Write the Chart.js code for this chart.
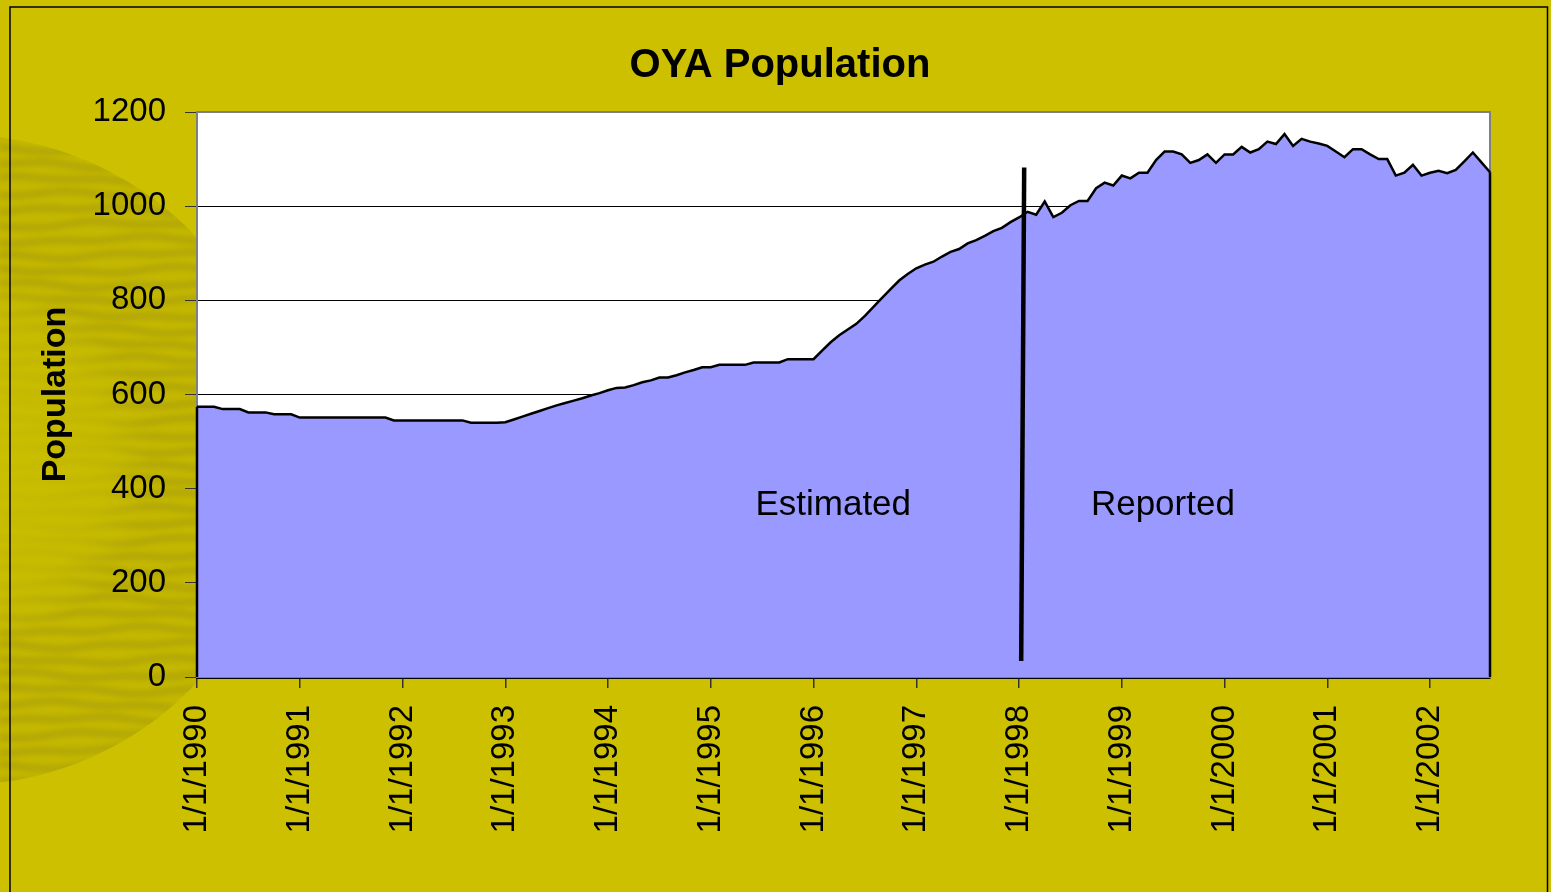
<!DOCTYPE html>
<html>
<head>
<meta charset="utf-8">
<title>OYA Population</title>
<script src="https://cdn.jsdelivr.net/npm/chart.js@4/dist/chart.umd.min.js"></script>
<style>
  html, body { margin: 0; padding: 0; background: #CCC000; }
  #wrap { width: 1551px; height: 892px; }
</style>
</head>
<body>
<div id="wrap"><canvas id="chart-oya" width="1551" height="892"></canvas></div>
<script>
// --- Data (monthly, Jan 1990 - Aug 2002) ---
const years = [1990, 1991, 1992, 1993, 1994, 1995, 1996, 1997, 1998, 1999, 2000, 2001, 2002];
const pop1990 = [574, 574, 574, 569, 569, 569, 562, 562, 562, 558, 558, 558];
const pop1991 = [551, 551, 551, 551, 551, 551, 551, 551, 551, 551, 551, 545];
const pop1992 = [545, 545, 545, 545, 545, 545, 545, 545, 540, 540, 540, 540];
const pop1993 = [541, 547, 553, 559, 565, 571, 577, 582, 587, 592, 598, 603];
const pop1994 = [609, 614, 615, 620, 626, 630, 636, 636, 641, 647, 652, 658];
const pop1995 = [658, 663, 663, 663, 663, 668, 668, 668, 668, 675, 675, 675];
const pop1996 = [675, 693, 711, 726, 738, 750, 767, 786, 805, 824, 842, 856];
const pop1997 = [868, 876, 882, 893, 903, 909, 921, 928, 937, 947, 954, 966];
const pop1998 = [976, 988, 982, 1010, 977, 986, 1002, 1011, 1011, 1038, 1050, 1044];
const pop1999 = [1065, 1059, 1071, 1071, 1098, 1116, 1116, 1110, 1092, 1098, 1110, 1092];
const pop2000 = [1110, 1110, 1126, 1114, 1121, 1137, 1132, 1153, 1128, 1143, 1137, 1133];
const pop2001 = [1128, 1116, 1104, 1121, 1121, 1110, 1100, 1100, 1065, 1071, 1088, 1065];
const pop2002 = [1071, 1075, 1070, 1077, 1095, 1114, 1093, 1072];

const population = [].concat(pop1990, pop1991, pop1992, pop1993, pop1994, pop1995, pop1996,
  pop1997, pop1998, pop1999, pop2000, pop2001, pop2002);

// category labels m/1/yyyy, one per data point
const dateLabels = [];
years.forEach(y => {
  for (let m = 1; m <= 12 && dateLabels.length < population.length; m++) {
    dateLabels.push(m + "/1/" + y);
  }
});

const yTicks = [0, 200, 400, 600, 800, 1000, 1200];

// divider between estimated and reported figures (index along the axis, value)
const dividerTop = { x: 96.6, y: 1082 };
const dividerBottom = { x: 96.25, y: 34 };
const notes = [
  { text: "Estimated", x: 74.3, y: 365 },
  { text: "Reported", x: 112.8, y: 365 }
];

const FONT = "'Liberation Sans', Arial, sans-serif";
const BG = "#CCC000";

// --- background, frame, sun texture, plot area ---
const backdrop = {
  id: "backdrop",
  beforeDraw(chart) {
    const { ctx, chartArea: a } = chart;
    ctx.save();
    ctx.fillStyle = BG;
    ctx.fillRect(0, 0, chart.width, chart.height);

    // textured sun on the left
    const cx = -40, cy = 460, R = 325;
    ctx.beginPath();
    ctx.arc(cx, cy, R, 0, Math.PI * 2);
    ctx.clip();
    ctx.fillStyle = "rgba(160,148,10,0.2)";
    ctx.fillRect(0, cy - R, 300, R * 2);
    ctx.filter = "blur(2px)";
    for (let y = cy - R; y < cy + R; y += 15) {
      ctx.beginPath();
      for (let x = 0; x <= 300; x += 6) {
        const yy = y + 2.5 * Math.sin(x / 37 + y * 0.37) + 1.5 * Math.sin(x / 15 + y);
        if (x === 0) ctx.moveTo(x, yy); else ctx.lineTo(x, yy);
      }
      ctx.strokeStyle = "rgba(135,120,0,0.32)";
      ctx.lineWidth = 6;
      ctx.stroke();
      ctx.strokeStyle = "rgba(215,205,60,0.22)";
      ctx.lineWidth = 3;
      ctx.translate(0, 7);
      ctx.stroke();
      ctx.translate(0, -7);
    }
    ctx.filter = "none";
    const g = ctx.createRadialGradient(cx, cy, 40, cx, cy, 190);
    g.addColorStop(0, "rgba(204,192,0,0.85)");
    g.addColorStop(0.7, "rgba(204,192,0,0.55)");
    g.addColorStop(1, "rgba(204,192,0,0)");
    ctx.fillStyle = g;
    ctx.fillRect(0, cy - 200, 200, 400);
    ctx.restore();

    ctx.save();
    // outer frame
    ctx.strokeStyle = "#000";
    ctx.lineWidth = 1.5;
    ctx.strokeRect(10, 7, 1537.5, 900);
    // plot area
    ctx.fillStyle = "#FFFFFF";
    ctx.fillRect(a.left, a.top, a.right - a.left, a.bottom - a.top);
    ctx.restore();
  },
  beforeDatasetsDraw(chart) {
    const { ctx, chartArea: a } = chart;
    ctx.save();
    ctx.strokeStyle = "#808080";
    ctx.lineWidth = 2;
    ctx.strokeRect(a.left, a.top, a.right - a.left, a.bottom - a.top);
    ctx.restore();
  },
  afterDatasetsDraw(chart) {
    const { ctx } = chart;
    const xs = chart.scales.x, ys = chart.scales.y;
    const pts = chart.getDatasetMeta(0).data;
    const first = pts[0], last = pts[pts.length - 1];
    ctx.save();
    // series outline down the two sides
    ctx.strokeStyle = "#000";
    ctx.lineWidth = 2.5;
    ctx.beginPath();
    ctx.moveTo(first.x, first.y);
    ctx.lineTo(first.x, ys.getPixelForValue(0));
    ctx.moveTo(last.x, last.y);
    ctx.lineTo(last.x, ys.getPixelForValue(0));
    ctx.stroke();

    // divider
    ctx.lineWidth = 4.5;
    ctx.beginPath();
    ctx.moveTo(xs.getPixelForValue(dividerTop.x), ys.getPixelForValue(dividerTop.y));
    ctx.lineTo(xs.getPixelForValue(dividerBottom.x), ys.getPixelForValue(dividerBottom.y));
    ctx.stroke();

    // notes
    ctx.fillStyle = "#000";
    ctx.font = "35px " + FONT;
    ctx.textAlign = "center";
    ctx.textBaseline = "middle";
    notes.forEach(n => {
      ctx.fillText(n.text, xs.getPixelForValue(n.x), ys.getPixelForValue(n.y));
    });
    ctx.restore();
  }
};

const ctxOya = document.getElementById("chart-oya").getContext("2d");
new Chart(ctxOya, {
  type: "line",
  data: {
    labels: dateLabels,
    datasets: [{
      label: "Population",
      data: population,
      fill: "origin",
      backgroundColor: "#9999FF",
      borderColor: "#000000",
      borderWidth: 2.5,
      pointRadius: 0,
      tension: 0
    }]
  },
  options: {
    responsive: false,
    animation: false,
    layout: { padding: { top: 0, right: 61, bottom: 0, left: 70 } },
    plugins: {
      legend: { display: false },
      tooltip: { enabled: false },
      title: {
        display: true,
        text: "OYA Population",
        color: "#000",
        font: { family: FONT, size: 40, weight: "bold" },
        padding: { top: 42, bottom: 22 }
      }
    },
    scales: {
      x: {
        type: "category",
        offset: false,
        afterFit: s => { s.height = 215; },
        border: { color: "#000", width: 3 },
        grid: {
          drawOnChartArea: false,
          drawTicks: true,
          tickLength: 11,
          tickColor: c => (c.index % 12 === 0 ? "#333" : "rgba(0,0,0,0)"),
          lineWidth: 1.5
        },
        ticks: {
          autoSkip: false,
          minRotation: 90,
          maxRotation: 90,
          padding: 17,
          color: "#000",
          font: { family: FONT, size: 33 },
          callback: (v, i) => (i % 12 === 0 ? dateLabels[i] : "")
        }
      },
      y: {
        min: yTicks[0],
        max: yTicks[yTicks.length - 1],
        afterFit: s => { s.width = 127; },
        afterBuildTicks: s => { s.ticks = yTicks.map(v => ({ value: v })); },
        border: { color: "#808080", width: 2 },
        grid: {
          color: "#000",
          lineWidth: 1,
          tickLength: 12,
          tickColor: "#333"
        },
        ticks: {
          padding: 19,
          color: "#000",
          font: { family: FONT, size: 33 },
          callback: v => String(v)
        },
        title: {
          display: true,
          text: "Population",
          color: "#000",
          font: { family: FONT, size: 34, weight: "bold" },
          padding: { top: -35, bottom: 0 }
        }
      }
    }
  },
  plugins: [backdrop]
});
</script>
</body>
</html>
